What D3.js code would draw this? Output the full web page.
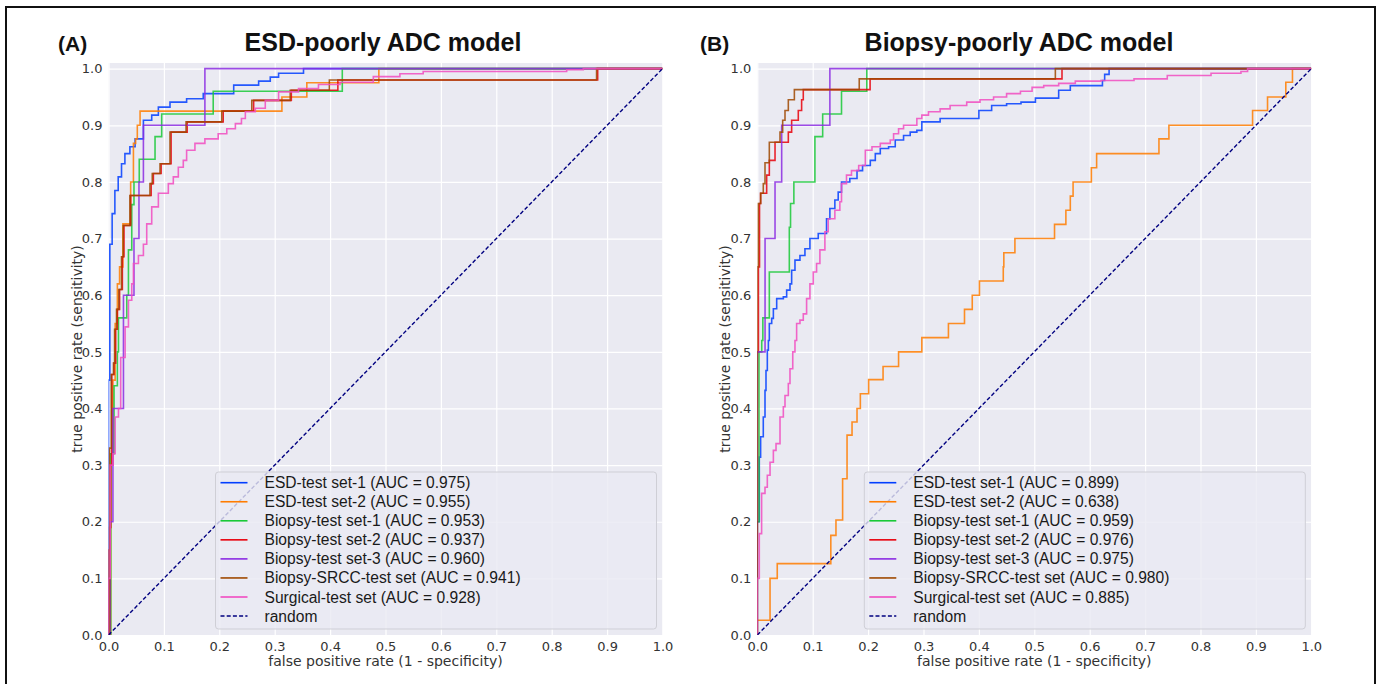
<!DOCTYPE html>
<html>
<head>
<meta charset="utf-8">
<script src="https://d3js.org/d3.v7.min.js"></script>
<style>
  body { margin: 0; background: #fff; }
  svg { display: block; }
</style>
</head>
<body>
<svg width="1381" height="684"></svg>
<script>
// ---- data ----
const seriesLabels = ['ESD-test set-1', 'ESD-test set-2', 'Biopsy-test set-1', 'Biopsy-test set-2',
  'Biopsy-test set-3', 'Biopsy-SRCC-test set', 'Surgical-test set'];
const aucA = [0.975, 0.955, 0.953, 0.937, 0.960, 0.941, 0.928];
const aucB = [0.899, 0.638, 0.959, 0.976, 0.975, 0.980, 0.885];
const panelTitles = ['ESD-poorly ADC model', 'Biopsy-poorly ADC model'];
const panelTags = ['(A)', '(B)'];
const rateTicks = [0, 0.1, 0.2, 0.3, 0.4, 0.5, 0.6, 0.7, 0.8, 0.9, 1.0];

// ROC step points [fpr, tpr] : tpr jumps at that fpr (panel A)
const rocA_esd1 = [[0, 0.45], [0.0024, 0.69], [0.0066, 0.744], [0.0115, 0.785], [0.0175, 0.809], [0.0235, 0.832],
  [0.0296, 0.85], [0.0386, 0.862], [0.048, 0.876], [0.063, 0.909], [0.078, 0.918], [0.09, 0.932], [0.111, 0.941],
  [0.141, 0.947], [0.171, 0.956], [0.226, 0.971], [0.271, 0.978], [0.292, 0.985], [0.307, 0.992], [0.352, 1.0]];
const rocA_esd2 = [[0.004, 0.3], [0.008, 0.45], [0.012, 0.55], [0.016, 0.62], [0.02, 0.65], [0.026, 0.726],
  [0.04, 0.8], [0.045, 0.868], [0.049, 0.876], [0.052, 0.9], [0.057, 0.925], [0.313, 0.95], [0.358, 0.975], [0.488, 1.0]];
const rocA_bio1 = [[0.004, 0.32], [0.01, 0.44], [0.016, 0.5], [0.018, 0.56], [0.033, 0.6], [0.036, 0.68],
  [0.042, 0.76], [0.046, 0.8], [0.0555, 0.84], [0.084, 0.88], [0.096, 0.92], [0.189, 0.96], [0.422, 1.0]];
const rocA_bio2 = [[0, 0.15], [0.002, 0.19], [0.004, 0.3], [0.006, 0.46], [0.01, 0.48], [0.013, 0.54], [0.016, 0.575],
  [0.02, 0.61], [0.025, 0.668], [0.028, 0.723], [0.04, 0.776], [0.077, 0.797], [0.081, 0.815], [0.095, 0.832],
  [0.113, 0.888], [0.142, 0.906], [0.207, 0.925], [0.262, 0.944], [0.33, 0.962], [0.414, 0.98], [0.883, 1.0]];
const rocA_bio3 = [[0.003, 0.2], [0.008, 0.4], [0.027, 0.6], [0.046, 0.7], [0.055, 0.8], [0.063, 0.9], [0.174, 1.0]];
const rocA_srcc = [[0.002, 0.33], [0.005, 0.46], [0.009, 0.48], [0.011, 0.54], [0.0145, 0.575], [0.0187, 0.61],
  [0.0235, 0.668], [0.0265, 0.723], [0.0386, 0.776], [0.0748, 0.797], [0.079, 0.815], [0.093, 0.832], [0.111, 0.888],
  [0.14, 0.906], [0.2045, 0.925], [0.2587, 0.944], [0.328, 0.962], [0.3987, 0.98], [0.881, 1.0]];
const rocA_surg = [[0, 0.1], [0.003, 0.3], [0.008, 0.32], [0.012, 0.385], [0.018, 0.4], [0.022, 0.49], [0.03, 0.544],
  [0.036, 0.591], [0.042, 0.62], [0.045, 0.656], [0.054, 0.67], [0.063, 0.69], [0.069, 0.726], [0.078, 0.756],
  [0.09, 0.78], [0.108, 0.797], [0.117, 0.809], [0.126, 0.826], [0.135, 0.838], [0.141, 0.856], [0.156, 0.868],
  [0.174, 0.876], [0.198, 0.885], [0.2135, 0.894], [0.229, 0.903], [0.24, 0.912], [0.247, 0.924], [0.265, 0.93],
  [0.283, 0.944], [0.307, 0.959], [0.343, 0.965], [0.379, 0.972], [0.418, 0.976], [0.478, 0.986], [0.526, 0.991],
  [0.568, 0.995], [0.827, 0.998], [0.857, 1.0]];

// panel B
const rocB_esd1 = [[0, 0.2], [0.0036, 0.314], [0.006, 0.35], [0.0108, 0.385], [0.0139, 0.432], [0.0157, 0.467],
  [0.0181, 0.503], [0.02, 0.52], [0.0217, 0.55], [0.026, 0.559], [0.029, 0.576], [0.035, 0.594], [0.047, 0.597],
  [0.053, 0.609], [0.059, 0.62], [0.062, 0.644], [0.068, 0.662], [0.077, 0.67], [0.086, 0.682], [0.095, 0.7],
  [0.11, 0.709], [0.125, 0.735], [0.131, 0.753], [0.14, 0.768], [0.146, 0.782], [0.152, 0.8], [0.167, 0.806],
  [0.18, 0.82], [0.19, 0.829], [0.204, 0.838], [0.213, 0.85], [0.222, 0.859], [0.237, 0.862], [0.249, 0.874],
  [0.264, 0.882], [0.276, 0.888], [0.288, 0.891], [0.297, 0.906], [0.33, 0.912], [0.4, 0.926], [0.423, 0.935],
  [0.45, 0.938], [0.476, 0.941], [0.502, 0.948], [0.544, 0.962], [0.565, 0.97], [0.623, 0.979], [0.627, 0.99], [0.635, 1.0]];
const rocB_esd2 = [[0, 0.026], [0.023, 0.1], [0.036, 0.126], [0.1327, 0.176], [0.142, 0.203], [0.154, 0.276],
  [0.162, 0.353], [0.171, 0.376], [0.18, 0.4], [0.186, 0.426], [0.201, 0.451], [0.227, 0.474], [0.255, 0.5],
  [0.297, 0.525], [0.345, 0.55], [0.374, 0.575], [0.388, 0.6], [0.401, 0.625], [0.444, 0.65], [0.445, 0.675],
  [0.465, 0.7], [0.5365, 0.725], [0.557, 0.75], [0.565, 0.775], [0.57, 0.8], [0.603, 0.825], [0.6125, 0.85],
  [0.725, 0.876], [0.743, 0.9], [0.894, 0.926], [0.921, 0.95], [0.954, 0.976], [0.966, 1.0]];
const rocB_bio1 = [[0, 0.2], [0.003, 0.5], [0.008, 0.52], [0.01, 0.56], [0.0217, 0.641], [0.0578, 0.72], [0.06, 0.762],
  [0.066, 0.8], [0.104, 0.88], [0.118, 0.92], [0.152, 0.96], [0.1976, 1.0]];
const rocB_bio2 = [[0, 0.5], [0.002, 0.65], [0.004, 0.762], [0.006, 0.78], [0.0169, 0.812], [0.0217, 0.838],
  [0.032, 0.87], [0.056, 0.888], [0.062, 0.909], [0.074, 0.926], [0.08, 0.945], [0.083, 0.963], [0.2036, 0.982], [0.55, 1.0]];
const rocB_bio3 = [[0, 0.5], [0.014, 0.7], [0.032, 0.8], [0.044, 0.9], [0.131, 1.0]];
const rocB_srcc = [[0, 0.65], [0.0018, 0.762], [0.006, 0.78], [0.0108, 0.797], [0.0139, 0.834], [0.0217, 0.87],
  [0.041, 0.888], [0.0458, 0.909], [0.05, 0.926], [0.056, 0.945], [0.0669, 0.963], [0.184, 0.982], [0.538, 1.0]];
const rocB_surg = [[0, 0.1], [0.0036, 0.179], [0.0078, 0.25], [0.0139, 0.261], [0.0181, 0.282], [0.023, 0.305],
  [0.029, 0.326], [0.0338, 0.338], [0.041, 0.385], [0.047, 0.403], [0.05, 0.423], [0.056, 0.444], [0.059, 0.47],
  [0.064, 0.5], [0.068, 0.52], [0.071, 0.55], [0.077, 0.556], [0.083, 0.567], [0.089, 0.594], [0.095, 0.62],
  [0.101, 0.641], [0.107, 0.656], [0.113, 0.68], [0.122, 0.712], [0.128, 0.735], [0.14, 0.75], [0.149, 0.765],
  [0.152, 0.797], [0.161, 0.812], [0.17, 0.82], [0.183, 0.829], [0.195, 0.856], [0.207, 0.862], [0.222, 0.868],
  [0.24, 0.874], [0.246, 0.885], [0.255, 0.894], [0.264, 0.9], [0.288, 0.912], [0.297, 0.918], [0.309, 0.924],
  [0.33, 0.929], [0.348, 0.935], [0.378, 0.941], [0.402, 0.945], [0.4265, 0.95], [0.45, 0.956], [0.475, 0.96],
  [0.496, 0.967], [0.517, 0.97], [0.544, 0.974], [0.574, 0.978], [0.62, 0.979], [0.68, 0.982], [0.74, 0.988],
  [0.819, 0.992], [0.873, 0.995], [0.885, 1.0]];

const curvesA = [rocA_esd1, rocA_esd2, rocA_bio1, rocA_bio2, rocA_bio3, rocA_srcc, rocA_surg];
const curvesB = [rocB_esd1, rocB_esd2, rocB_bio1, rocB_bio2, rocB_bio3, rocB_srcc, rocB_surg];

// seaborn "bright"
const palette = ['#023eff', '#ff7c00', '#1ac938', '#e8000b', '#8b2be2', '#9f4800', '#f14cc1'];

const W = 554, H = 572;
const svg = d3.select('svg');

// outer frame
svg.append('rect').attr('x', 6).attr('y', 7).attr('width', 1369).attr('height', 700)
  .attr('fill', 'none').attr('stroke', '#111').attr('stroke-width', 2);

function drawPanel(i, left, curves, aucs, titleX, tagX) {
  const x = d3.scaleLinear().domain([0, 1]).range([0, W]);
  const y = d3.scaleLinear().domain([0, 1.01]).range([H, 0]);
  const g = svg.append('g').attr('transform', `translate(${left},63)`);

  g.append('rect').attr('width', W).attr('height', H).attr('fill', '#eaeaf2');
  g.append('clipPath').attr('id', 'clip' + i)
    .append('rect').attr('width', W).attr('height', H);

  // grid
  g.append('g').attr('transform', `translate(0,${H})`)
    .call(d3.axisBottom(x).tickValues(rateTicks).tickSize(-H).tickFormat(''))
    .call(a => a.select('.domain').remove())
    .call(a => a.selectAll('line').attr('stroke', '#fff').attr('stroke-width', 1.2));
  g.append('g')
    .call(d3.axisLeft(y).tickValues(rateTicks).tickSize(-W).tickFormat(''))
    .call(a => a.select('.domain').remove())
    .call(a => a.selectAll('line').attr('stroke', '#fff').attr('stroke-width', 1.2));

  // tick labels
  g.append('g').attr('transform', `translate(0,${H})`)
    .call(d3.axisBottom(x).tickValues(rateTicks).tickSize(0).tickPadding(7).tickFormat(d3.format('.1f')))
    .call(a => a.select('.domain').remove())
    .call(a => a.selectAll('text').attr('font-family', 'DejaVu Sans').attr('font-size', 13).attr('fill', '#333'));
  g.append('g')
    .call(d3.axisLeft(y).tickValues(rateTicks).tickSize(0).tickPadding(6).tickFormat(d3.format('.1f')))
    .call(a => a.select('.domain').remove())
    .call(a => a.selectAll('text').attr('font-family', 'DejaVu Sans').attr('font-size', 13).attr('fill', '#333'));

  // curves
  const line = d3.line().x(d => x(d[0])).y(d => y(d[1])).curve(d3.curveStepAfter);
  const plot = g.append('g').attr('clip-path', `url(#clip${i})`);
  curves.forEach((c, k) => {
    plot.append('path')
      .datum([[0, 0], ...c, [1, 1]])
      .attr('d', line)
      .attr('fill', 'none')
      .attr('stroke', palette[k])
      .attr('stroke-opacity', 0.85)
      .attr('stroke-width', 1.6);
  });
  plot.append('path')
    .datum([[0, 0], [1, 1]])
    .attr('d', d3.line().x(d => x(d[0])).y(d => y(d[1])))
    .attr('fill', 'none').attr('stroke', 'navy').attr('stroke-width', 1.4)
    .attr('stroke-dasharray', '4,2.2');

  // axis labels
  g.append('text').attr('x', W / 2).attr('y', H + 31)
    .attr('text-anchor', 'middle').attr('font-family', 'DejaVu Sans').attr('font-size', 14).attr('fill', '#333')
    .text('false positive rate (1 - specificity)');
  g.append('text').attr('transform', `translate(-32,${H / 2}) rotate(-90)`)
    .attr('text-anchor', 'middle').attr('dominant-baseline', 'central')
    .attr('font-family', 'DejaVu Sans').attr('font-size', 14).attr('fill', '#333')
    .text('true positive rate (sensitivity)');

  // titles
  svg.append('text').attr('x', titleX).attr('y', 51).attr('text-anchor', 'middle')
    .attr('font-family', 'Liberation Sans, Arial').attr('font-weight', 'bold').attr('font-size', 25).attr('fill', '#111')
    .text(panelTitles[i]);
  svg.append('text').attr('x', tagX).attr('y', 51)
    .attr('font-family', 'Liberation Sans, Arial').attr('font-weight', 'bold').attr('font-size', 21).attr('fill', '#111')
    .text(panelTags[i]);

  // legend
  const lw = 441, lh = 157;
  const lg = g.append('g').attr('transform', `translate(${W - 6 - lw},${H - 6 - lh})`);
  lg.append('rect').attr('width', lw).attr('height', lh).attr('rx', 3)
    .attr('fill', '#eaeaf2').attr('fill-opacity', 0.8).attr('stroke', '#cfcfd6').attr('stroke-width', 1);
  const entries = seriesLabels.map((s, k) => ({ text: `${s} (AUC = ${aucs[k].toFixed(3)})`, color: palette[k], dash: null }));
  entries.push({ text: 'random', color: 'navy', dash: '4,2.2' });
  entries.forEach((e, k) => {
    const ry = 10.7 + k * 19.05;
    lg.append('line').attr('x1', 5).attr('x2', 32).attr('y1', ry).attr('y2', ry)
      .attr('stroke', e.color).attr('stroke-width', e.dash ? 1.4 : 1.6)
      .attr('stroke-dasharray', e.dash);
    lg.append('text').attr('x', 49).attr('y', ry).attr('dominant-baseline', 'central')
      .attr('font-family', 'Liberation Sans, Arial').attr('font-size', 15.6).attr('fill', '#1a1a1a')
      .text(e.text);
  });
}

drawPanel(0, 108.5, curvesA, aucA, 383, 58);
drawPanel(1, 757.3, curvesB, aucB, 1019, 700);
</script>
</body>
</html>
